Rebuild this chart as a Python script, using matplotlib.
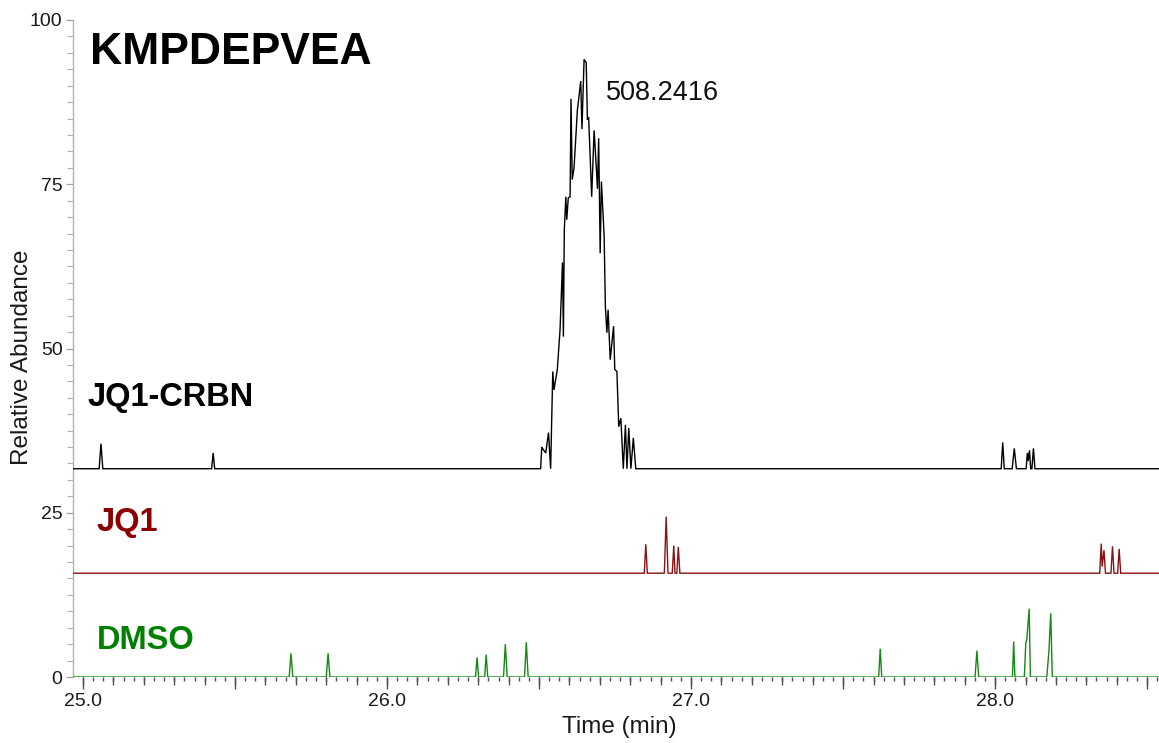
import matplotlib
matplotlib.use("Agg")
import matplotlib.pyplot as plt
from matplotlib.ticker import MultipleLocator, FuncFormatter, NullFormatter
import numpy as np

plt.rcParams['font.family'] = ['Liberation Sans', 'DejaVu Sans']

# --- Extracted ion chromatograms (time in min, intensity above each trace's baseline) ---
crbn_time = [24.95, 25.053, 25.059, 25.065, 25.423, 25.428, 25.433,
             26.505, 26.509, 26.514, 26.522, 26.531, 26.538, 26.545, 26.549,
             26.560, 26.569, 26.577, 26.580, 26.583, 26.588, 26.591, 26.596,
             26.602, 26.605, 26.609, 26.615, 26.626, 26.637, 26.641, 26.648,
             26.655, 26.659, 26.663, 26.673, 26.681, 26.688, 26.692, 26.696,
             26.701, 26.705, 26.714, 26.718, 26.723, 26.727, 26.734, 26.745,
             26.749, 26.756, 26.762, 26.769, 26.777, 26.784, 26.789, 26.795,
             26.802, 26.810, 26.818,
             28.020, 28.025, 28.030, 28.056, 28.063, 28.070,
             28.102, 28.106, 28.109, 28.113, 28.117, 28.121, 28.126, 28.131, 28.54]
crbn_int = [0, 0, 3.8, 0, 0, 2.4, 0,
            0, 3.3, 2.9, 2.4, 5.5, 0, 14.8, 12.0,
            15.1, 21.2, 31.4, 20.1, 36.4, 41.4, 37.9, 41.2,
            41.4, 56.3, 44.0, 45.8, 54.6, 59.0, 51.7, 62.3,
            61.8, 53.1, 53.5, 41.4, 51.5, 46.0, 42.6, 50.3,
            32.8, 43.7, 35.4, 24.7, 20.7, 24.2, 16.6, 21.7,
            15.1, 14.8, 6.4, 7.7, 0, 6.7, 0, 6.2,
            0, 4.7, 0,
            0, 4.0, 0, 0, 3.1, 0,
            0, 2.4, 1.2, 2.8, 0, 0, 3.1, 0, 0]

jq1_time = [24.95, 26.846, 26.851, 26.856, 26.912, 26.918, 26.924,
            26.938, 26.943, 26.947, 26.953, 26.958, 26.963,
            28.344, 28.349, 28.352, 28.358, 28.363, 28.381, 28.386, 28.391,
            28.403, 28.408, 28.413, 28.54]
jq1_int = [0, 0, 4.4, 0, 0, 8.6, 0,
           0, 4.2, 0, 0, 4.0, 0,
           0, 4.5, 1.0, 3.5, 0, 0, 4.1, 0,
           0, 3.7, 0, 0]

dmso_time = [24.95, 25.678, 25.684, 25.690, 25.800, 25.806, 25.812,
             26.291, 26.296, 26.301, 26.321, 26.326, 26.331,
             26.383, 26.389, 26.395, 26.452, 26.458, 26.464,
             27.617, 27.622, 27.627, 27.934, 27.940, 27.946,
             28.057, 28.061, 28.065, 28.096, 28.101, 28.104, 28.112, 28.116,
             28.170, 28.177, 28.183, 28.188, 28.54]
dmso_int = [0, 0, 3.6, 0, 0, 3.6, 0,
            0, 3.0, 0, 0, 3.4, 0,
            0, 5.0, 0, 0, 5.3, 0,
            0, 4.3, 0, 0, 4.0, 0,
            0, 5.4, 0, 0, 5.3, 5.6, 10.4, 0,
            0, 4.0, 9.7, 0, 0]

traces = [
    ("JQ1-CRBN", crbn_time, crbn_int, 31.7, "#000000", "#000000"),
    ("JQ1", jq1_time, jq1_int, 15.8, "#8b1010", "#8b0000"),
    ("DMSO", dmso_time, dmso_int, 0.0, "#138a13", "#008000"),
]
label_pos = {"JQ1-CRBN": (0.0138, 0.4247), "JQ1": (0.0212, 0.2359), "DMSO": (0.0221, 0.0563)}

peptide = "KMPDEPVEA"
mz_label = "508.2416"
mz_pos = (26.720, 88.9)

fig = plt.figure(figsize=(11.59, 7.43), dpi=100)
ax = fig.add_axes([73 / 1159, 66 / 743, 1086 / 1159, 657 / 743])

for name, t, y, off, lc, tc in traces:
    ax.plot(t, np.asarray(y) + off, color=lc, lw=1.0, solid_joinstyle='miter', zorder=3)
    lx, ly = label_pos[name]
    ax.text(lx, ly, name, transform=ax.transAxes, color=tc, fontsize=23.5,
            fontweight='bold', ha='left', va='center')

ax.text(0.0157, 0.951, peptide, transform=ax.transAxes, fontsize=32,
        fontweight='bold', ha='left', va='center', color='black')
ax.text(mz_pos[0], mz_pos[1], mz_label, fontsize=19.5, ha='left', va='center', color='#111111')

ax.set_xlim(24.967, 28.539)
ax.set_ylim(0, 100)

for s in ('top', 'right', 'bottom'):
    ax.spines[s].set_visible(False)
ax.spines['left'].set_color('#b0b0b0')
ax.spines['left'].set_linewidth(1.0)

# x axis: long ticks every 0.5 min (labelled at whole minutes), short ticks every 2 s
ax.xaxis.set_major_locator(MultipleLocator(0.5))
ax.xaxis.set_major_formatter(FuncFormatter(
    lambda v, p: f"{v:.1f}" if abs(v - round(v)) < 1e-6 else ""))
ax.xaxis.set_minor_locator(MultipleLocator(1 / 30))
ax.tick_params(axis='x', which='major', length=8.5, width=1.0, color='#505050',
               labelsize=14, pad=3, labelcolor='#1a1a1a')
ax.tick_params(axis='x', which='minor', length=3.0, width=1.0, color='#505050')

# medium ticks every 0.1 min
sec = ax.secondary_xaxis('bottom')
sec.spines['bottom'].set_visible(False)
sec.xaxis.set_major_locator(MultipleLocator(0.1))
sec.xaxis.set_major_formatter(NullFormatter())
sec.tick_params(axis='x', which='major', length=5.5, width=1.0, color='#505050')

ax.yaxis.set_major_locator(MultipleLocator(25))
ax.yaxis.set_minor_locator(MultipleLocator(2.5))
ax.tick_params(axis='y', which='major', length=5, width=0.9, color='#a0a0a0',
               labelsize=14, pad=2.5, labelcolor='#1a1a1a')
ax.tick_params(axis='y', which='minor', length=4.5, width=0.8, color='#b0b0b0')

ax.set_xlabel("Time (min)", fontsize=17.5, color='#1a1a1a')
ax.xaxis.label.set_va('center')
ax.xaxis.set_label_coords(0.503, -0.0761)
ax.set_ylabel("Relative Abundance", fontsize=17.5, color='#1a1a1a')
ax.yaxis.label.set_va('center')
ax.yaxis.set_label_coords(-0.047, 0.487)

fig.savefig("out.png", dpi=100)
